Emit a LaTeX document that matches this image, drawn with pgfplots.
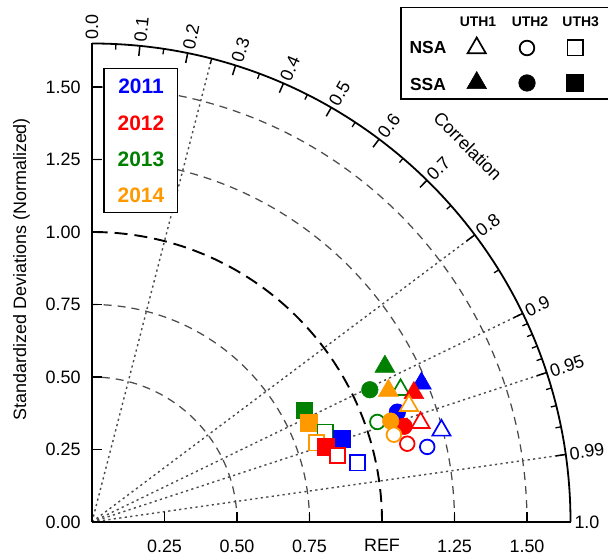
\documentclass[border=0pt]{standalone}
\usepackage{pgfplots}
\pgfplotsset{compat=1.18}
\usepackage{fontspec}
\setmainfont{Liberation Sans}
\definecolor{cB}{RGB}{0,0,255}
\definecolor{cR}{RGB}{255,0,0}
\definecolor{cG}{RGB}{0,128,0}
\definecolor{cO}{RGB}{255,153,0}
\definecolor{gridgray}{RGB}{75,75,75}
\newcommand{\tfont}{\fontsize{18}{21}\selectfont}
\pgfplotsset{
 mOT/.style={only marks, color=#1, mark=triangle*, mark size=10.5bp, mark options={solid, fill=white, line width=1.7bp}},
 mFT/.style={only marks, color=#1, mark=triangle*, mark size=11.5bp, mark options={solid, fill=#1, line width=0.5bp}},
 mOC/.style={only marks, color=#1, mark=*, mark size=7.3bp, mark options={solid, fill=white, line width=1.8bp}},
 mFC/.style={only marks, color=#1, mark=*, mark size=8.3bp, mark options={solid, fill=#1, line width=0.5bp}},
 mOS/.style={only marks, color=#1, mark=square*, mark size=7.6bp, mark options={solid, fill=white, line width=1.8bp}},
 mFS/.style={only marks, color=#1, mark=square*, mark size=8.4bp, mark options={solid, fill=#1, line width=0.5bp}},
}
\begin{document}
\begin{tikzpicture}
\path[use as bounding box] (-92bp,-34bp) rectangle (516bp,522bp);
% standard deviation arcs
\foreach \r in {145,217.5,362.5,435}{
  \draw[gridgray, line width=1.25bp, dash pattern=on 8bp off 6bp] (\r bp,0) arc[start angle=0,end angle=90,radius=\r bp];
}
\draw[black, line width=1.9bp, dash pattern=on 13bp off 7bp] (290bp,0) arc[start angle=0,end angle=90,radius=290bp];
% radial correlation lines
\foreach \c in {0.25,0.8,0.9,0.95,0.99}{
  \pgfmathsetmacro{\a}{acos(\c)}
  \draw[gridgray, line width=1.4bp, dash pattern=on 2.2bp off 3.3bp] (0,0) -- (\a:478.5bp);
}
% outer arc
\draw[line width=1.8bp] (478.5bp,0) arc[start angle=0,end angle=90,radius=478.5bp];
\foreach \c in {0.0,0.1,0.2,0.3,0.4,0.5,0.6,0.7,0.8,0.9,0.95,0.99,1.0}{
  \pgfmathsetmacro{\a}{acos(\c)}
  \draw[line width=1.5bp] (\a:478.5bp) -- (\a:468.5bp);
  \node[anchor=west, rotate=\a, font=\tfont] at (\a:479bp) {\c};
}
\foreach \c in {0.05,0.15,0.25,0.35,0.45,0.55,0.65,0.75,0.85,0.91,0.92,0.93,0.94,0.96,0.97,0.98}{
  \pgfmathsetmacro{\a}{acos(\c)}
  \draw[line width=1.3bp] (\a:478.5bp) -- (\a:473bp);
}
\node[rotate=-45, font=\tfont] at (376bp,376bp) {Correlation};
\node[rotate=90, font=\tfont] at (-70.5bp,253bp) {Standardized Deviations (Normalized)};
% year legend
\draw[fill=white, line width=1.2bp] (12bp,309.3bp) rectangle (85.7bp,453.7bp);
\node[font=\fontsize{21}{24}\selectfont\bfseries, text=cB] at (49bp,435.3bp) {2011};
\node[font=\fontsize{21}{24}\selectfont\bfseries, text=cR] at (49bp,398.7bp) {2012};
\node[font=\fontsize{21}{24}\selectfont\bfseries, text=cG] at (49bp,363bp) {2013};
\node[font=\fontsize{21}{24}\selectfont\bfseries, text=cO] at (49bp,326.3bp) {2014};
% marker legend
\fill[white] (309bp,423bp) rectangle (516bp,514.7bp);
\draw[line width=1.2bp] (516bp,514.7bp) -- (309bp,514.7bp) -- (309bp,423bp) -- (516bp,423bp);
\node[font=\fontsize{14}{16}\selectfont\bfseries] at (386bp,500bp) {UTH1};
\node[font=\fontsize{14}{16}\selectfont\bfseries] at (438bp,500bp) {UTH2};
\node[font=\fontsize{14}{16}\selectfont\bfseries] at (488.7bp,500bp) {UTH3};
\node[font=\fontsize{17.5}{20}\selectfont\bfseries] at (336bp,474bp) {NSA};
\node[font=\fontsize{17.5}{20}\selectfont\bfseries] at (336bp,437bp) {SSA};
\begin{axis}[
  at={(0,0)}, anchor=origin,
  x=290bp, y=290bp,
  xmin=0, xmax=1.65, ymin=0, ymax=1.65,
  axis lines=left,
  axis line style={-, line width=1.5bp},
  tick align=inside,
  major tick length=10bp,
  tick style={line width=1.5bp, black},
  xtick={0.25,0.5,0.75,1,1.25,1.5},
  xticklabels={0.25,0.50,0.75,REF,1.25,1.50},
  ytick={0,0.25,0.5,0.75,1,1.25,1.5},
  yticklabels={0.00,0.25,0.50,0.75,1.00,1.25,1.50},
  minor tick num=0,
  /pgf/number format/assume math mode=true,
  tick label style={font=\tfont},
  xticklabel style={yshift=-14bp},
  yticklabel style={xshift=-8bp},
  clip=false,
]
% squares
\addplot[mFS=cG] coordinates {(0.732,0.385)};
\addplot[mFS=cO] coordinates {(0.747,0.341)};
\addplot[mOS=cG] coordinates {(0.804,0.310)};
\addplot[mOS=cO] coordinates {(0.774,0.273)};
\addplot[mFS=cB] coordinates {(0.861,0.288)};
\addplot[mFS=cR] coordinates {(0.806,0.259)};
\addplot[mOS=cR] coordinates {(0.846,0.230)};
\addplot[mOS=cB] coordinates {(0.915,0.204)};
% circles
\addplot[mOC=cG] coordinates {(0.984,0.345)};
\addplot[mFC=cG] coordinates {(0.958,0.456)};
\addplot[mFC=cB] coordinates {(1.053,0.379)};
\addplot[mFC=cR] coordinates {(1.076,0.330)};
\addplot[mOC=cR] coordinates {(1.087,0.270)};
\addplot[mFC=cO] coordinates {(1.030,0.348)};
\addplot[mOC=cO] coordinates {(1.041,0.301)};
\addplot[mOC=cB] coordinates {(1.156,0.259)};
% triangles
\addplot[mOT=cG] coordinates {(1.064,0.456)};
\addplot[mFT=cG] coordinates {(1.010,0.536)};
\addplot[mFT=cB] coordinates {(1.136,0.478)};
\addplot[mFT=cR] coordinates {(1.110,0.445)};
\addplot[mFT=cO] coordinates {(1.022,0.453)};
\addplot[mOT=cO] coordinates {(1.093,0.401)};
\addplot[mOT=cR] coordinates {(1.133,0.342)};
\addplot[mOT=cB] coordinates {(1.205,0.316)};
% legend symbols
\addplot[mOT=black] coordinates {(1.3266,1.6345)};
\addplot[mOC=black] coordinates {(1.5,1.6345)};
\addplot[mOS=black] coordinates {(1.6655,1.6345)};
\addplot[mFT=black] coordinates {(1.3266,1.5138)};
\addplot[mFC=black] coordinates {(1.5,1.5138)};
\addplot[mFS=black] coordinates {(1.6655,1.5138)};
\end{axis}
\end{tikzpicture}
\end{document}
